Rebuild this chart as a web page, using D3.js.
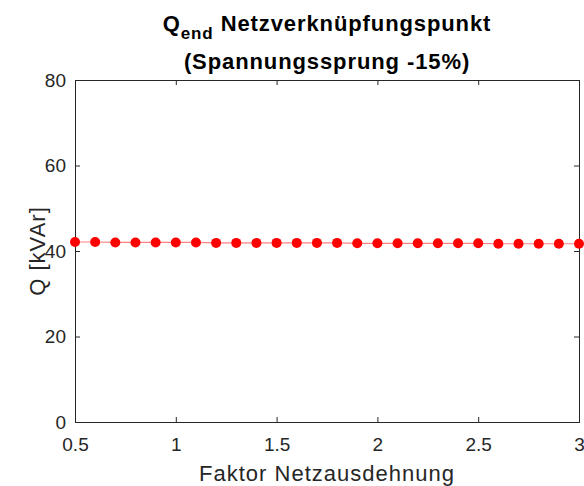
<!DOCTYPE html>
<html>
<head>
<meta charset="utf-8">
<script src="https://cdn.jsdelivr.net/npm/d3@7"></script>
<style>
  body { margin: 0; background: #fff; }
  svg { display: block; }
  .axis text { font-family: "Liberation Sans", Arial, sans-serif; font-size: 19px; fill: #262626; }
  .axis path, .axis line { stroke: #262626; }
</style>
</head>
<body>
<div id="chart-area"></div>
<script>
// Daten
var faktor = [0.5, 0.6, 0.7, 0.8, 0.9, 1.0, 1.1, 1.2, 1.3, 1.4, 1.5, 1.6, 1.7,
              1.8, 1.9, 2.0, 2.1, 2.2, 2.3, 2.4, 2.5, 2.6, 2.7, 2.8, 2.9, 3.0];
var qEnd = [42.1, 42.1, 42.0, 42.0, 42.0, 42.0, 42.0, 41.9, 41.9, 41.9, 41.9, 41.9, 41.9,
            41.9, 41.8, 41.8, 41.8, 41.8, 41.8, 41.8, 41.8, 41.7, 41.7, 41.7, 41.7, 41.7];
var xTicks = [0.5, 1, 1.5, 2, 2.5, 3];
var yTicks = [0, 20, 40, 60, 80];

var margin = {top: 80, right: 5, bottom: 64, left: 75},
    width = 584 - margin.left - margin.right,
    height = 486 - margin.top - margin.bottom;

var svg = d3.select("#chart-area").append("svg")
    .attr("width", 584)
    .attr("height", 486);

var g = svg.append("g")
    .attr("transform", "translate(" + margin.left + "," + margin.top + ")");

var x = d3.scaleLinear().domain([0.5, 3]).range([0, width]);
var y = d3.scaleLinear().domain([0, 80]).range([height, 0]);

// Achsen (MATLAB-Stil, Ticks nach innen, Box)
g.append("g")
    .attr("class", "axis")
    .attr("transform", "translate(0," + height + ")")
    .call(d3.axisBottom(x).tickValues(xTicks).tickSize(-5).tickPadding(16)
        .tickFormat(d3.format("")));

g.append("g")
    .attr("class", "axis")
    .call(d3.axisTop(x).tickValues(xTicks).tickSize(-5).tickFormat(""));

g.append("g")
    .attr("class", "axis")
    .call(d3.axisLeft(y).tickValues(yTicks).tickSize(-5).tickPadding(9));

g.append("g")
    .attr("class", "axis")
    .attr("transform", "translate(" + width + ",0)")
    .call(d3.axisRight(y).tickValues(yTicks).tickSize(-5).tickFormat(""));

// Linie
var line = d3.line()
    .x(function(d, i) { return x(faktor[i]); })
    .y(function(d) { return y(d); });

g.append("path")
    .datum(qEnd)
    .attr("fill", "none")
    .attr("stroke", "#ff8080")
    .attr("stroke-width", 1.2)
    .attr("d", line);

g.selectAll("circle")
    .data(qEnd)
  .enter()
    .append("circle")
    .attr("cx", function(d, i) { return x(faktor[i]); })
    .attr("cy", function(d) { return y(d); })
    .attr("r", 5)
    .attr("fill", "#ff0000");

// Titel
var title = svg.append("text")
    .attr("x", margin.left + width / 2)
    .attr("y", 31)
    .attr("text-anchor", "middle")
    .style("font-family", "'Liberation Sans', Arial, sans-serif")
    .style("font-size", "22px")
    .style("letter-spacing", "0.9px")
    .style("font-weight", "bold")
    .style("fill", "#000");
title.append("tspan").text("Q");
title.append("tspan").attr("dy", 8).style("font-size", "17px").text("end");
title.append("tspan").attr("dy", -8).text(" Netzverknüpfungspunkt");

svg.append("text")
    .attr("x", margin.left + width / 2)
    .attr("y", 69)
    .attr("text-anchor", "middle")
    .style("font-family", "'Liberation Sans', Arial, sans-serif")
    .style("font-size", "22px")
    .style("letter-spacing", "0.9px")
    .style("font-weight", "bold")
    .style("fill", "#000")
    .text("(Spannungssprung -15%)");

// Achsenbeschriftungen
svg.append("text")
    .attr("x", margin.left + width / 2)
    .attr("y", 481)
    .attr("text-anchor", "middle")
    .style("font-family", "'Liberation Sans', Arial, sans-serif")
    .style("font-size", "22px")
    .style("letter-spacing", "1px")
    .style("fill", "#262626")
    .text("Faktor Netzausdehnung");

svg.append("text")
    .attr("transform", "translate(45," + (margin.top + height / 2) + ") rotate(-90)")
    .attr("text-anchor", "middle")
    .style("font-family", "'Liberation Sans', Arial, sans-serif")
    .style("font-size", "22px")
    .style("letter-spacing", "1px")
    .style("fill", "#262626")
    .text("Q [kVAr]");
</script>
</body>
</html>
